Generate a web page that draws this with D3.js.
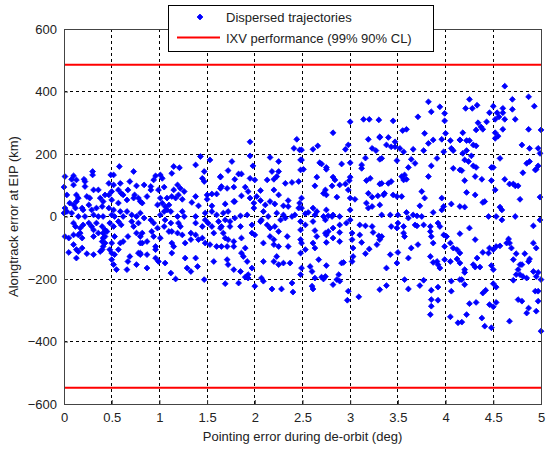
<!DOCTYPE html>
<html>
<head>
<meta charset="utf-8">
<script src="https://cdn.jsdelivr.net/npm/d3@7"></script>
<style>
  body { margin: 0; background: #fff; }
  svg { font-family: "Liberation Sans", Arial, sans-serif; }
  .tick-label { font-size: 13px; fill: #222; }
  .axis-title { font-size: 13px; fill: #222; }
  .legend-text { font-size: 13px; fill: #222; }
</style>
</head>
<body>
<svg id="chart" width="547" height="450"></svg>
<script>
// x tick values / y tick values
var xTicks = [0, 0.5, 1, 1.5, 2, 2.5, 3, 3.5, 4, 4.5, 5];
var yTicks = [-600, -400, -200, 0, 200, 400, 600];
// IXV performance bounds (km)
var ixvLimits = [486, -548];

// dispersed trajectories, [pointing error (deg), alongtrack error (km)]
var strip1 = [[0.58,160],[0.30,144],[0.30,133],[0.73,144],[0.49,133],[0.52,133],[0.01,128],[0.10,130],[0.08,119],[0.13,117],[0.21,119],[0.22,112],[0.47,106],[0.52,101],[0.59,106],[0.69,112],[0.76,98],[0.0,94],[0.10,101],[0.22,96],[0.31,85],[0.36,85],[0.43,69],[0.47,69],[0.50,80],[0.60,74],[0.57,85],[0.62,69],[0.67,85],[0.74,69],[0.78,59],[0.03,69],[0.13,69],[0.15,59],[0.24,64],[0.27,59],[0.38,59],[0.41,48],[0.50,53],[0.57,43],[0.66,53],[0.73,59],[0.80,48],[0.06,43],[0.10,37],[0.13,48],[0.12,27],[0.01,27],[0.19,27],[0.20,21],[0.26,37],[0.29,21],[0.34,27],[0.40,32],[0.47,27],[0.52,21],[0.59,16],[0.66,16],[0.0,11],[0.03,16],[0.08,11],[0.15,0],[0.22,0],[0.31,5],[0.36,0],[0.41,0],[0.50,5],[0.53,0],[0.62,0],[0.71,5],[0.76,0],[0.80,11],
  [0.10,-21],[0.12,-32],[0.17,-37],[0.20,-27],[0.26,-21],[0.29,-32],[0.34,-21],[0.40,-32],[0.43,-43],[0.48,-21],[0.52,-32],[0.57,-16],[0.60,-27],[0.71,-16],[0.73,-32],[0.78,-21],[0.01,-64],[0.05,-69],[0.10,-59],[0.15,-59],[0.17,-53],[0.19,-69],[0.31,-43],[0.31,-64],[0.36,-53],[0.41,-53],[0.43,-64],[0.45,-48],[0.50,-85],[0.53,-64],[0.59,-85],[0.62,-80],[0.67,-64],[0.76,-53],[0.80,-85],[0.80,-64],[0.10,-90],[0.13,-106],[0.15,-112],[0.19,-101],[0.05,-115],[0.24,-119],[0.31,-122],[0.38,-112],[0.40,-106],[0.41,-96],[0.43,-85],[0.48,-106],[0.50,-117],[0.53,-122],[0.57,-106],[0.69,-128],[0.78,-117],[0.13,-133],[0.50,-138],[0.52,-154],[0.55,-170],[0.66,-170],[0.67,-144],[0.76,-154],[0.80,-122],[0.40,-80],[0.41,-69]];

var strip2 = [[1.43,192],[1.53,181],[1.38,165],[1.15,160],[1.21,156],[1.47,144],[1.13,138],[1.64,126],[0.96,130],[1.01,133],[1.03,122],[1.45,122],[0.94,117],[1.47,112],[0.84,101],[0.91,96],[1.05,94],[1.19,101],[1.22,90],[0.91,85],[0.99,85],[1.15,85],[1.26,80],[1.20,69],[0.87,64],[1.01,59],[1.08,59],[1.13,64],[1.17,59],[1.24,55],[1.38,64],[1.50,69],[1.55,72],[1.60,72],[1.64,90],[1.50,55],[1.34,45],[1.41,34],[1.55,34],[0.82,43],[0.98,37],[1.03,43],[1.06,32],[1.10,37],[1.08,21],[1.12,16],[1.05,16],[1.01,5],[1.24,16],[1.26,0],[1.38,0],[1.48,11],[1.55,16],[1.60,5],[0.84,-5],[0.91,-11],[0.94,-21],[0.98,-37],[1.05,-32],[1.12,-21],[1.20,-21],[1.22,-32],[1.13,-48],[1.19,-53],[1.24,-59],[1.33,-53],[1.38,-21],[1.45,-32],[1.48,-11],[1.51,-21],[1.55,-32],[1.57,-53],[1.64,-37],[0.82,-53],[0.92,-48],[0.94,-64],[1.01,-69],[0.82,-85],[0.87,-80],[0.96,-96],[0.96,-106],[1.13,-85],[1.15,-96],[1.27,-85],[1.33,-74],[1.38,-59],[1.41,-74],[1.45,-69],[1.48,-85],[1.53,-90],[1.60,-96],[0.80,-117],[0.87,-122],[0.96,-133],[0.99,-144],[1.06,-149],[1.13,-117],[1.27,-133],[1.38,-133],[1.29,-165],[1.33,-176],[1.40,-160],[1.57,-144],[0.87,-165],[1.12,-181],[1.17,-200],[1.47,-202],[1.10,-48],[1.06,-11],[1.19,0],[1.62,-16]];

var strip3 = [[1.95,239],[2.44,247],[2.41,218],[2.47,213],[2.16,189],[2.25,176],[1.95,194],[1.76,176],[1.98,162],[2.48,181],[1.72,147],[1.83,136],[1.86,136],[1.79,119],[1.64,128],[1.95,122],[2.00,117],[2.18,144],[2.25,144],[2.23,128],[2.20,119],[2.13,117],[2.32,106],[2.39,109],[2.46,112],[2.48,149],[1.65,96],[1.71,90],[1.78,94],[1.90,94],[1.93,80],[2.06,83],[2.20,85],[1.86,66],[1.95,59],[2.02,64],[2.25,69],[1.69,40],[1.78,48],[1.79,48],[1.99,43],[2.06,51],[2.11,37],[2.16,48],[2.21,40],[2.30,34],[2.35,51],[2.35,32],[2.46,27],[2.49,59],[1.67,11],[1.72,16],[1.85,2],[1.92,5],[1.99,27],[2.09,16],[2.14,0],[2.23,11],[2.30,5],[2.39,0],[2.42,5],[1.69,-11],[1.74,-16],[1.79,-5],[1.65,-32],[1.74,-32],[1.85,-32],[1.97,-27],[2.06,-16],[2.07,-11],[2.13,-27],[2.16,-37],[2.21,-32],[2.27,-11],[2.32,-5],[2.48,-16],[1.67,-53],[1.69,-69],[1.72,-74],[1.78,-80],[1.71,-96],[1.86,-69],[1.97,-53],[2.00,-59],[2.16,-64],[2.20,-74],[2.25,-48],[2.34,-64],[2.48,-74],[2.48,-43],[1.65,-96],[1.78,-96],[1.90,-101],[2.09,-85],[2.20,-90],[2.25,-96],[2.35,-96],[1.86,-117],[1.88,-128],[1.71,-138],[1.72,-154],[1.92,-144],[2.09,-144],[2.20,-144],[2.23,-128],[2.25,-154],[2.30,-149],[2.37,-149],[2.48,-117],[1.78,-170],[1.85,-176],[1.69,-215],[1.83,-213],[1.93,-186],[1.97,-165],[1.90,-194],[1.93,-197],[2.00,-223],[2.09,-207],[2.18,-232],[2.28,-232],[2.39,-213],[2.40,-242],[2.48,-186],[2.07,-197]];

var strip4 = [[3.14,311],[3.20,311],[3.30,309],[3.00,303],[2.82,268],[3.19,247],[3.31,255],[2.61,215],[2.66,226],[2.98,229],[2.95,215],[3.23,218],[3.27,211],[3.31,183],[2.49,213],[2.49,181],[2.51,151],[2.68,172],[2.70,168],[2.75,157],[2.75,151],[2.91,168],[3.00,172],[3.16,187],[3.12,165],[3.12,154],[2.65,126],[2.63,98],[2.82,126],[2.84,117],[2.81,98],[2.89,101],[2.95,104],[3.00,126],[2.99,115],[3.17,115],[3.21,122],[3.31,104],[2.74,85],[2.75,69],[2.72,74],[2.86,62],[2.98,85],[3.00,59],[3.05,55],[3.19,74],[3.23,62],[3.29,66],[2.49,27],[2.56,13],[2.53,9],[2.61,27],[2.65,16],[2.75,21],[3.00,21],[3.17,43],[3.19,27],[3.23,32],[3.31,37],[2.63,5],[2.72,0],[2.77,2],[2.81,0],[2.82,5],[2.89,0],[2.53,-27],[2.61,-16],[2.74,-11],[2.77,-48],[2.82,-37],[2.89,-27],[2.96,-21],[3.00,-11],[3.10,-27],[3.16,-30],[3.23,-32],[2.63,-45],[2.74,-53],[2.75,-59],[2.89,-51],[3.02,-53],[3.10,-59],[3.24,-51],[3.30,-62],[2.49,-85],[2.53,-106],[2.61,-85],[2.63,-101],[2.65,-64],[2.75,-83],[2.82,-69],[2.89,-80],[3.02,-74],[3.03,-101],[3.12,-83],[3.16,-119],[3.20,-104],[3.28,-90],[3.31,-74],[2.49,-165],[2.58,-160],[2.60,-176],[2.67,-138],[2.75,-157],[2.74,-192],[2.91,-149],[2.93,-147],[3.02,-144],[3.03,-128],[2.63,-197],[2.70,-194],[2.72,-200],[2.86,-202],[2.88,-186],[2.89,-207],[2.82,-218],[2.60,-223],[2.61,-232],[2.98,-239],[2.97,-268],[3.09,-257],[2.47,43]];

var strip5 = [[3.82,367],[3.94,351],[3.85,335],[3.99,330],[3.71,319],[3.45,306],[3.99,306],[3.59,279],[3.55,275],[3.78,266],[4.00,266],[3.31,253],[3.40,253],[3.47,239],[3.96,247],[4.05,243],[3.87,245],[3.82,234],[4.15,245],[3.38,229],[3.43,223],[3.47,223],[3.52,218],[3.66,215],[3.77,211],[4.06,218],[4.08,211],[3.98,207],[3.56,207],[3.33,186],[3.49,179],[3.64,183],[3.68,170],[3.91,186],[3.85,162],[4.08,154],[4.15,149],[3.61,157],[3.82,128],[3.54,128],[3.56,117],[3.59,119],[3.57,133],[3.43,112],[3.40,106],[3.36,74],[3.33,106],[3.35,69],[3.45,69],[3.49,64],[3.54,64],[3.75,80],[3.78,59],[3.73,34],[3.96,59],[3.98,32],[4.06,40],[3.33,5],[3.42,5],[3.50,5],[3.59,13],[3.61,-5],[3.66,5],[3.70,2],[3.75,0],[3.87,13],[3.96,21],[3.92,-21],[4.15,32],[3.43,-32],[3.50,-21],[3.49,-37],[3.56,-32],[3.68,-27],[3.70,-30],[3.77,-27],[3.84,-32],[3.94,-32],[3.33,-64],[3.56,-53],[3.57,-64],[3.64,-101],[3.71,-90],[3.84,-48],[3.85,-64],[3.87,-85],[3.98,-59],[4.01,-64],[4.05,-85],[4.08,-101],[4.12,-106],[4.15,-117],[3.99,-96],[3.42,-122],[3.49,-149],[3.50,-115],[3.61,-133],[3.84,-128],[3.87,-147],[3.91,-144],[3.92,-154],[3.94,-165],[3.99,-138],[4.05,-144],[4.12,-136],[4.15,-149],[3.38,-165],[3.57,-202],[3.61,-232],[3.73,-221],[3.77,-204],[3.85,-236],[3.92,-226],[4.06,-207],[4.15,-202],[4.06,-239],[3.85,-266],[3.92,-268],[3.85,-287],[3.84,-314],[4.05,-321],[4.13,-340],[3.31,-234],[3.38,-221]];

var strip6 = [[4.62,417],[4.87,383],[4.25,375],[4.33,356],[4.21,346],[4.28,346],[4.70,375],[4.93,353],[4.50,353],[4.60,346],[4.70,343],[4.54,332],[4.60,332],[4.46,332],[4.56,319],[4.62,311],[4.73,311],[4.52,311],[4.43,303],[4.34,300],[4.37,287],[4.32,277],[4.39,279],[4.60,279],[4.52,268],[4.55,257],[4.52,250],[4.87,279],[5.0,277],[4.18,268],[4.15,245],[4.22,243],[4.25,243],[4.29,229],[4.32,226],[4.22,211],[4.80,229],[4.88,218],[4.97,218],[4.99,202],[4.18,202],[4.27,194],[4.20,181],[4.24,176],[4.57,186],[4.85,170],[4.88,176],[4.97,162],[4.94,149],[4.29,162],[4.32,157],[4.48,157],[4.50,157],[4.95,151],[4.81,140],[4.17,147],[4.31,128],[4.38,119],[4.20,115],[4.48,115],[4.71,104],[4.67,104],[4.73,98],[4.76,98],[4.62,119],[4.52,85],[4.22,77],[4.31,69],[4.39,45],[4.41,48],[4.78,55],[4.99,62],[4.20,30],[4.57,30],[4.59,21],[4.45,0],[4.53,0],[4.59,-11],[4.73,0],[4.99,-11],[4.92,-30],[4.25,-37],[4.15,-55],[4.31,-74],[4.66,-72],[4.64,-85],[4.67,-85],[4.69,-101],[4.57,-94],[4.46,-101],[4.50,-106],[4.45,-117],[4.39,-115],[4.33,-133],[4.53,-96],[4.92,-85],[4.95,-101],[4.74,-119],[4.83,-119],[4.71,-138],[4.88,-136],[4.78,-154],[4.80,-154],[4.76,-170],[4.87,-144],[4.92,-176],[4.97,-179],[4.36,-162],[4.31,-162],[4.29,-154],[4.20,-170],[4.20,-179],[4.48,-157],[4.50,-170],[4.74,-186],[4.78,-186],[4.81,-192],[4.85,-197],[4.95,-192],[4.71,-204],[5.0,-202],[4.17,-202],[4.20,-218],[4.50,-215],[4.53,-226],[4.39,-245],[4.42,-236],[4.94,-239],[4.97,-239],[4.32,-275],[4.50,-289],[4.53,-275],[4.46,-282],[4.76,-266],[4.80,-271],[4.97,-271],[4.87,-293],[4.95,-303],[4.85,-309],[4.25,-279],[4.22,-314],[4.38,-325],[4.67,-335],[4.41,-351],[4.48,-356],[4.17,-338],[5.0,-367]];

var points = strip1.concat(strip2, strip3, strip4, strip5, strip6);

var margin = {left: 64, right: 6, top: 29, bottom: 46};
var svg = d3.select("#chart");
var width = +svg.attr("width") - margin.left - margin.right;
var height = +svg.attr("height") - margin.top - margin.bottom;

var g = svg.append("g").attr("transform", "translate(" + margin.left + "," + margin.top + ")");

var x = d3.scaleLinear().domain([0, 5]).range([0, width]);
var y = d3.scaleLinear().domain([-600, 600]).range([height, 0]);

// grid
g.selectAll(".vgrid").data(xTicks.slice(1, -1)).join("line")
    .attr("x1", d => x(d)).attr("x2", d => x(d))
    .attr("y1", 0).attr("y2", height)
    .attr("stroke", "#000").attr("stroke-width", 1)
    .attr("stroke-dasharray", "3,3")
    .attr("shape-rendering", "crispEdges");
g.selectAll(".hgrid").data(yTicks.slice(1, -1)).join("line")
    .attr("x1", 0).attr("x2", width)
    .attr("y1", d => y(d)).attr("y2", d => y(d))
    .attr("stroke", "#000").attr("stroke-width", 1)
    .attr("stroke-dasharray", "3,3")
    .attr("shape-rendering", "crispEdges");

// IXV bounds
g.selectAll(".limit").data(ixvLimits).join("line")
    .attr("x1", 0).attr("x2", width)
    .attr("y1", d => y(d)).attr("y2", d => y(d))
    .attr("stroke", "#ff0000").attr("stroke-width", 2);

// scatter
var marker = d3.symbol().type(d3.symbolSquare).size(17);
g.append("g").selectAll("path").data(points).join("path")
    .attr("d", marker)
    .attr("transform", d => "translate(" + x(d[0]) + "," + y(d[1]) + ") rotate(45)")
    .attr("fill", "#0000ff")
    .attr("stroke", "#0000ff")
    .attr("stroke-width", 0.8);

// axes (ticks inward, box style)
var xAxis = g.append("g").attr("transform", "translate(0," + height + ")")
    .call(d3.axisBottom(x).tickValues(xTicks).tickSizeInner(-4).tickSizeOuter(0).tickPadding(9).tickFormat(d3.format("")));
var yAxis = g.append("g")
    .call(d3.axisLeft(y).tickValues(yTicks).tickSizeInner(-4).tickSizeOuter(0).tickPadding(7));
[xAxis, yAxis].forEach(function(a){
    a.select(".domain").remove();
    a.selectAll("line").attr("stroke", "#333");
    a.selectAll("text").attr("class", "tick-label").attr("font-family", null).attr("font-size", null).attr("fill", null);
});

g.append("rect")
    .attr("x", 0).attr("y", 0).attr("width", width).attr("height", height)
    .attr("fill", "none").attr("stroke", "#444").attr("stroke-width", 1)
    .attr("shape-rendering", "crispEdges");

// axis titles
svg.append("text").attr("class", "axis-title")
    .attr("x", margin.left + width / 2).attr("y", 441)
    .attr("text-anchor", "middle")
    .text("Pointing error during de-orbit (deg)");
svg.append("text").attr("class", "axis-title")
    .attr("transform", "translate(18," + (margin.top + height / 2) + ") rotate(-90)")
    .attr("text-anchor", "middle")
    .text("Alongtrack error at EIP (km)");

// legend
var legend = svg.append("g").attr("transform", "translate(168,5)");
legend.append("rect").attr("x", 0.5).attr("y", 0.5).attr("width", 265).attr("height", 46)
    .attr("fill", "#fff").attr("stroke", "#000").attr("stroke-width", 1);
legend.append("path").attr("d", marker)
    .attr("transform", "translate(32,12) rotate(45)")
    .attr("fill", "#0000ff").attr("stroke", "#0000ff").attr("stroke-width", 0.8);
legend.append("text").attr("class", "legend-text").attr("x", 58).attr("y", 17).text("Dispersed trajectories");
legend.append("line").attr("x1", 9).attr("x2", 52).attr("y1", 32.5).attr("y2", 32.5)
    .attr("stroke", "#ff0000").attr("stroke-width", 2);
legend.append("text").attr("class", "legend-text").attr("x", 58).attr("y", 38).text("IXV performance (99% 90% CL)");
</script>
</body>
</html>
